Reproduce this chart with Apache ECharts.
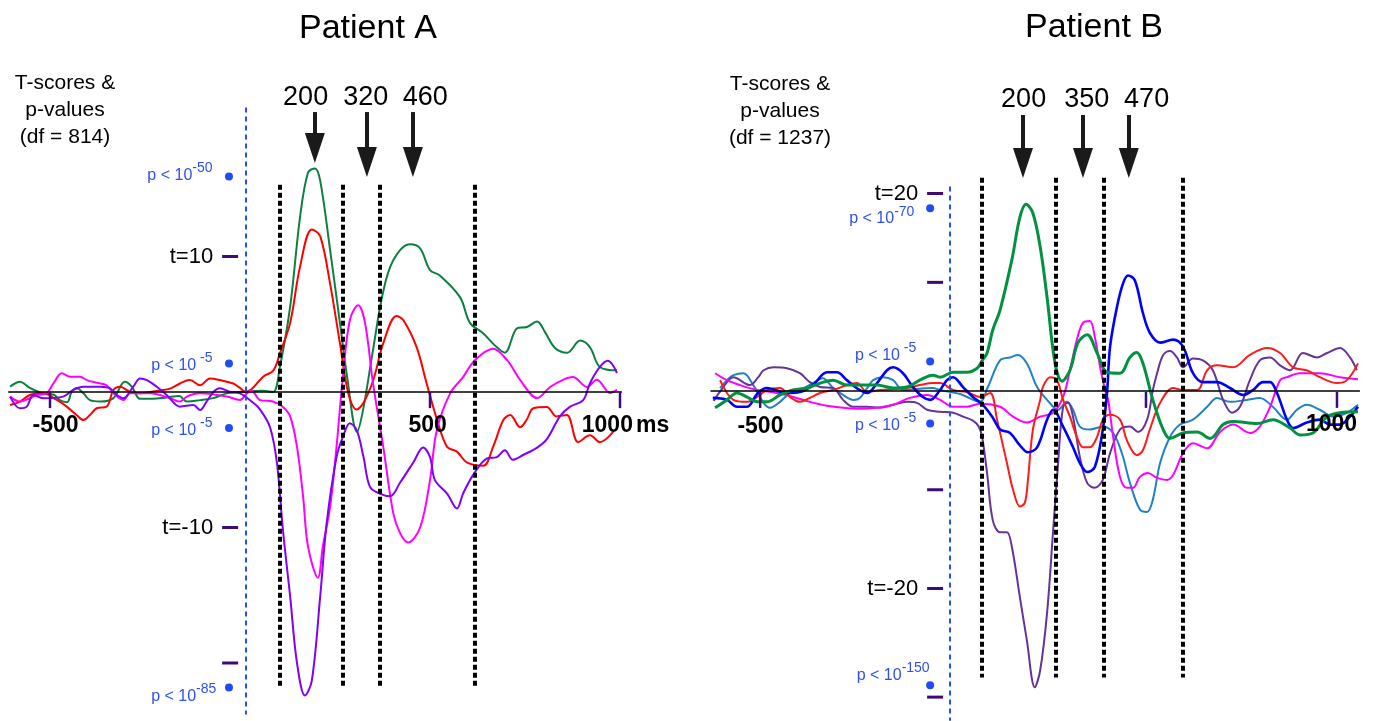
<!DOCTYPE html>
<html>
<head>
<meta charset="utf-8">
<script src="https://cdn.jsdelivr.net/npm/echarts@6/dist/echarts.min.js"></script>
<style>
  html, body { margin: 0; padding: 0; background: #fff; }
  #main { width: 1374px; height: 721px; }
</style>
</head>
<body>
<div id="main"></div>
<script>
// ---------- Patient A (ms, t) ----------
const greenA = [[-605,0.4],[-579,0.76],[-553,0.3],[-520,-0.1],[-490,-0.2],[-474,-0.6],[-455,-0.75],[-443,0],[-430,0.3],[-412,-0.1],[-395,-0.6],[-368,-0.7],[-333,-0.45],[-303,0.75],[-285,0.4],[-263,-0.5],[-230,-0.5],[-193,-0.4],[-160,-0.3],[-140,-0.7],[-105,-0.6],[-70,-0.45],[-35,-0.1],[0,0],[30,0.05],[60,0.1],[87,0],[105,1.85],[132,6.3],[158,12.9],[179,16.2],[197,16.5],[211,15.6],[237,10.5],[263,5.1],[282,1.1],[308,-2.95],[324,-1.3],[350,3.1],[376,7.3],[403,9.7],[447,10.9],[474,10.6],[500,9.0],[526,8.6],[579,7.0],[605,5.1],[639,4.35],[676,3.3],[697,2.9],[729,4.7],[755,4.8],[782,5.2],[803,4.4],[829,3.25],[861,2.9],[895,3.8],[921,3.3],[947,1.85],[992,1.6]];
const redA = [[-605,-0.96],[-579,-0.71],[-553,-0.22],[-518,-0.1],[-482,-0.59],[-456,-1.08],[-430,-1.7],[-412,-2.07],[-395,-1.7],[-377,-1.2],[-351,-1.08],[-333,0.15],[-316,0.39],[-289,0],[-263,-0.1],[-237,0],[-210,0.12],[-184,0.25],[-158,0.63],[-132,0.88],[-105,0.5],[-79,1.0],[-53,0.88],[-18,0.63],[0,0.3],[15,0],[30,0.2],[61,1.13],[88,1.6],[105,2.85],[132,5.1],[158,9.25],[189,12.0],[211,11.5],[237,8.0],[263,3.6],[285,-0.1],[307,-1.3],[325,-0.8],[351,0.9],[377,3.6],[412,5.6],[430,5.3],[465,3.3],[491,0.65],[518,-2.0],[545,-4.05],[571,-4.4],[597,-5.2],[640,-5.45],[666,-4.05],[693,-2.07],[711,-1.7],[737,-2.6],[754,-2.07],[772,-1.2],[807,-1.1],[833,-1.8],[860,-1.7],[890,-3.7],[921,-3.2],[947,-3.7],[982,-2.95]];
const magentaA = [[-605,-0.34],[-579,-0.71],[-553,-0.46],[-535,-0.22],[-509,-0.1],[-491,0.63],[-469,1.38],[-447,1.13],[-421,1.13],[-403,0.88],[-377,0.68],[-351,0.5],[-333,-0.1],[-307,-0.59],[-289,-0.1],[-237,-0.1],[-184,-0.46],[-158,-0.71],[-140,-0.34],[-105,-0.1],[-35,-0.34],[0,-0.59],[18,-0.1],[30,0.1],[53,-0.6],[87,-0.7],[113,-1.1],[132,-1.8],[150,-4.05],[166,-7.7],[179,-11.4],[205,-13.7],[218,-11.4],[237,-8.5],[254,-4.05],[271,1.2],[289,5.3],[311,6.4],[329,5.1],[350,0.65],[377,-4.05],[403,-8.9],[421,-10.4],[442,-11.1],[474,-10],[500,-6.5],[518,-2.8],[553,-0.1],[587,1.1],[618,2.35],[666,3.2],[703,2.35],[737,0.9],[782,-0.45],[816,0.37],[850,0.9],[876,1.1],[913,0.37],[939,0.9],[974,-0.07],[992,0.15]];
const purpleA = [[-605,-0.34],[-579,-1.2],[-561,-1.08],[-544,-0.22],[-518,-0.46],[-465,-0.34],[-439,0.15],[-412,0.39],[-368,0.39],[-342,0.27],[-324,-0.22],[-307,-0.46],[-281,0.39],[-263,1.0],[-245,0.88],[-219,0.39],[-193,-0.22],[-158,-1.08],[-123,-0.96],[-105,-1.33],[-88,-0.71],[-70,0],[-53,0.27],[-26,0],[0,-0.1],[35,-0.8],[53,-1.3],[79,-2.6],[97,-5.2],[113,-10.2],[132,-15.1],[150,-20],[171,-22.4],[189,-21.3],[211,-15.1],[228,-9.7],[254,-4.8],[271,-3.3],[289,-2.3],[307,-2.8],[325,-4.8],[342,-7.0],[368,-7.5],[395,-7.7],[421,-6.7],[456,-5.2],[482,-4.1],[500,-4.8],[513,-6.5],[545,-7.5],[571,-8.6],[587,-7.5],[614,-6.1],[650,-4.9],[676,-4.8],[697,-4.3],[718,-5.0],[745,-4.65],[782,-4.1],[807,-3.5],[842,-1.8],[868,-1.1],[903,-0.6],[921,0.65],[947,1.85],[968,2.3],[992,1.4]];

// ---------- Patient B (ms, t) ----------
const greenB = [[-628,-1.7],[-597,-0.9],[-571,-0.2],[-545,-0.6],[-518,-1.1],[-492,-1.1],[-458,-0.4],[-424,0.1],[-387,0.3],[-353,0.8],[-319,1.1],[-283,0.6],[-204,0.6],[-162,0.3],[-126,0.4],[-92,1.1],[-58,1.6],[-39,1.4],[-5,1.9],[31,1.9],[58,2.3],[73,3.2],[84,3.85],[99,6.2],[118,8.2],[149,13.3],[170,17.6],[186,18.9],[204,18.0],[223,14.6],[241,9.5],[262,2.8],[280,1.0],[301,2.1],[322,4.9],[346,5.7],[372,3.85],[398,1.9],[432,1.8],[458,3.4],[476,3.9],[492,2.8],[518,-0.9],[545,-3.9],[563,-4.8],[597,-4.25],[634,-4.15],[668,-4.8],[702,-3.4],[728,-3.1],[791,-3.3],[832,-2.9],[877,-3.75],[903,-4.45],[937,-4.25],[974,-2.6],[1008,-2.2],[1055,-2.1]];
const blueB = [[-634,-0.7],[-597,-0.9],[-571,-1.6],[-545,-1.6],[-516,-0.2],[-492,0.3],[-440,-0.2],[-406,-0.1],[-372,0.6],[-335,1.9],[-309,1.9],[-283,1.1],[-257,0.3],[-230,-0.2],[-204,0.8],[-178,2.1],[-162,2.4],[-136,1.8],[-110,0.4],[-84,-0.6],[-65,-0.9],[-39,0.1],[-21,1.1],[-5,1.4],[21,0.4],[47,-0.6],[73,-1.4],[99,-2.7],[118,-3.9],[144,-4.25],[170,-5.5],[191,-6.2],[215,-5.7],[241,-2.9],[257,-1.9],[283,-3.6],[309,-5.7],[327,-7.3],[346,-8.2],[366,-7.7],[387,-3.9],[398,-0.2],[406,4.5],[424,8.5],[440,10.9],[453,11.7],[471,11.2],[492,7.9],[510,5.9],[537,4.9],[571,5.2],[597,4.5],[623,1.8],[649,0.9],[686,0.9],[720,0.3],[754,-0.4],[780,0.1],[806,0.9],[825,0.9],[843,-0.2],[869,-2.9],[885,-3.75],[921,-3.2],[955,-2.9],[982,-3.4],[1008,-3.4],[1034,-2.6],[1055,-1.6]];
const redB = [[-615,1.1],[-580,-0.9],[-545,-1.1],[-518,-0.6],[-492,0.1],[-458,0.3],[-432,-0.6],[-406,-1.1],[-380,-0.7],[-353,-0.2],[-319,0.1],[-283,0.6],[-257,0.8],[-230,-0.1],[-196,0.1],[-126,0.3],[-92,0.6],[-58,0.8],[-39,0.8],[-5,0.1],[31,-0.1],[65,-0.6],[92,-0.2],[110,-2.9],[136,-7.3],[152,-10],[170,-11.7],[183,-11.3],[191,-9.0],[204,-3.9],[223,-0.9],[230,0.4],[249,1.4],[267,1.1],[283,-0.9],[301,-2.6],[319,-4.65],[335,-5.7],[353,-5.7],[372,-4.65],[387,-2.9],[406,-2.4],[432,-2.9],[450,-5.0],[476,-6.5],[492,-6.0],[510,-3.9],[537,-1.2],[571,0.3],[597,0.1],[634,0.1],[660,2.1],[686,2.6],[728,2.4],[772,3.65],[817,4.35],[851,3.85],[885,2.4],[921,2.1],[955,1.4],[1000,0.8],[1026,1.1],[1055,2.8]];
const magentaB = [[-628,1.8],[-597,1.1],[-563,0.6],[-518,0.1],[-466,-0.2],[-424,-0.6],[-380,-1.1],[-335,-1.5],[-293,-1.7],[-249,-1.8],[-204,-1.7],[-162,-1.4],[-118,-0.7],[-73,-0.4],[-39,-0.9],[-5,-1.6],[31,-1.6],[65,-1.3],[118,-1.6],[152,-2.6],[188,-3.2],[223,-2.6],[257,-2.2],[283,-0.6],[301,2.1],[319,5.2],[335,6.9],[353,7.1],[366,5.5],[380,2.4],[393,0.1],[401,-0.9],[414,-4.65],[432,-8.7],[450,-9.8],[466,-9.8],[484,-8.7],[505,-8.3],[529,-8.8],[555,-9.0],[571,-8.5],[597,-6.3],[623,-5.3],[660,-5.8],[694,-4.15],[728,-3.4],[772,-4.25],[798,-3.6],[825,-1.6],[851,1.1],[869,1.4],[903,1.8],[955,1.8],[1008,1.4],[1055,1.2]];
const steelB = [[-615,0.3],[-597,1.1],[-580,1.6],[-554,1.8],[-528,0.6],[-501,-1.2],[-484,-1.7],[-458,-1.1],[-432,-0.2],[-406,0.1],[-372,0.8],[-346,1.3],[-319,0.3],[-293,-0.4],[-266,-0.9],[-249,-0.7],[-230,0.3],[-214,1.1],[-188,1.4],[-162,1.1],[-136,0.1],[-58,0.3],[-39,0.1],[13,-0.3],[65,-1.1],[86,0.4],[118,3.1],[144,3.4],[165,3.65],[188,2.8],[215,0.4],[241,-0.9],[270,-1.9],[293,-1.1],[309,-1.9],[327,-3.6],[353,-3.9],[387,-3.6],[414,-4.25],[437,-6.3],[458,-9.3],[484,-12.0],[503,-12.25],[518,-11.0],[537,-7.3],[563,-4.65],[589,-3.4],[623,-2.9],[660,-1.6],[686,-0.7],[720,-1.1],[764,-0.9],[798,-0.7],[832,-1.6],[869,-2.9],[895,-1.9],[921,-1.4],[955,-1.9],[990,-2.6],[1026,-2.2],[1055,-1.4]];
const purpleB = [[-632,-1.0],[-610,0.2],[-580,1.4],[-537,0.6],[-515,1.4],[-501,2.1],[-475,2.4],[-440,2.3],[-406,1.8],[-380,0.9],[-353,0.4],[-319,0.3],[-293,-0.9],[-266,-1.6],[-230,-1.6],[-196,-1.7],[-162,-1.4],[-126,-1.1],[-100,-1.2],[-73,-1.9],[-39,-2.1],[-5,-2.2],[21,-2.6],[47,-3.0],[62,-3.6],[71,-4.65],[84,-8.3],[99,-13.1],[118,-14.3],[136,-14.3],[149,-15.8],[170,-20.9],[188,-25.2],[209,-30.0],[223,-28.3],[241,-22.5],[257,-14.1],[270,-7.3],[283,-1.6],[296,-1.2],[309,-2.6],[327,-6.7],[346,-9.3],[366,-9.8],[387,-9.0],[406,-6.3],[432,-3.9],[458,-3.6],[479,-4.15],[503,-2.9],[518,0.1],[529,1.8],[545,3.65],[563,4.05],[581,3.4],[597,2.4],[623,3.3],[649,3.1],[675,2.1],[702,-0.9],[725,-2.2],[746,-1.6],[772,1.1],[798,3.1],[825,3.4],[851,2.6],[877,2.1],[911,3.85],[948,3.4],[974,3.85],[1008,4.35],[1034,3.4],[1052,2.1]];

// ---------- annotations ----------
const xTicksA = [-500, 500, 1000];
const xTickTextA = [[-484, -2.5, '-500'], [495, -2.5, '500'], [968, -2.5, '1000'], [1087, -2.5, 'ms']];
const xTicksB = [-510, 500, 1000];
const xTickTextB = [[-508, -3.65, '-500'], [987, -3.44, '1000']];

const tTicksA = [10, -10, -20];
const tTextA = ['t=10', 't=-10', ''];
const tTicksB = [20, 11, -10, -20, -31];
const tTextB = ['t=20', '', '', 't=-20', ''];

const pDotsA = [15.9, 2.1, -2.65, -21.8];
const pTextA = [[-71, 15.94, '-50'], [-71, 1.92, ' -5'], [-71, -2.88, ' -5'], [-61, -22.5, '-85']];
const pDotsB = [18.5, 3.0, -3.3, -29.8];
const pTextB = [[-105, 17.4, '-70'], [-100, 3.54, ' -5'], [-100, -3.54, ' -5'], [-65, -28.86, '-150']];

const windowsA = [105, 270, 368, 618];
const windowsB = [71, 264, 390, 597];
const onsetA = 15;
const onsetB = -13;

const peakNamesA = ['200', '320', '460'];
const peakArrowA = [197, 334, 455];
const peakTipA = [16.9, 15.87, 15.87];
const peakTextA = [174, 332, 489];
const peakNamesB = ['200', '350', '470'];
const peakArrowB = [178, 335, 455];
const peakTipB = [21.57, 21.57, 21.57];
const peakTextB = [181, 346, 503];

// ---------- layout ----------
const FONT = '"Liberation Sans", Arial, Helvetica, sans-serif';
const pxA = 13.55, pxB = 9.875;   // px per t unit (from grid heights)
const rangeA = {xMin: -610, xMax: 1005, yMin: -24, yMax: 25};
const rangeB = {xMin: -640, xMax: 1060, yMin: -34, yMax: 32};
const BLUE = '#2f4ff0', TICK = '#3d0a78';

function lineS(data, color, width, k) {
  return {type: 'line', data: data, xAxisIndex: k, yAxisIndex: k, smooth: 0.35, symbol: 'none',
    lineStyle: {color: color, width: width}, silent: true, animation: false, z: 3};
}
function segS(k, segs, lineStyle) {
  return {type: 'line', data: [], xAxisIndex: k, yAxisIndex: k, silent: true, animation: false,
    markLine: {silent: true, animation: false, symbol: ['none', 'none'], label: {show: false},
      lineStyle: lineStyle, emphasis: {disabled: true},
      data: segs.map(s => [{coord: [s[0], s[1]]}, {coord: [s[2], s[3]]}])}};
}
function markS(k, pts, symbol, size, color, z) {
  return {type: 'scatter', xAxisIndex: k, yAxisIndex: k, clip: false, silent: true, animation: false,
    symbol: symbol, symbolSize: size, itemStyle: {color: color, opacity: 1}, data: pts, z: z || 6};
}
function textS(k, pts, label) {
  return {type: 'scatter', xAxisIndex: k, yAxisIndex: k, clip: false, silent: true, animation: false,
    symbolSize: 1, itemStyle: {color: 'rgba(0,0,0,0)', opacity: 1}, z: 8,
    data: pts.map(p => ({value: [p[0], p[1]], label: Object.assign({show: true, opacity: 1, formatter: p[2]}, label)}))};
}
const pRich = {
  base: {fontSize: 16, color: BLUE, fontFamily: FONT, verticalAlign: 'middle', lineHeight: 18},
  sup: {fontSize: 14, color: BLUE, fontFamily: FONT, verticalAlign: 'middle', lineHeight: 16, padding: [0, 0, 14, 0]}
};

function panel(k, curves, r, o) {
  const s = [];
  // zero line
  s.push(segS(k, [[r.xMin, 0, r.xMax, 0]], {color: '#000', width: 1.6, type: 'solid'}));
  curves.forEach(c => s.push(lineS(c[0], c[1], c[2], k)));
  // onset (blue dashed) and windows (black dotted)
  s.push(segS(k, [[o.onset, o.onsetTop, o.onset, o.onsetBot]], {color: '#2250ff', width: 2, type: [5, 4]}));
  s.push(segS(k, o.windows.map(w => [w, o.winTop, w, o.winBot]), {color: '#000', width: 4, type: [5, 3], cap: 'butt'}));
  // arrows: shaft + downward head
  s.push(segS(k, o.arrows.map((x, i) => [x, o.arrowTop, x, o.tips[i] + 15 / o.px]), {color: '#1a1a1a', width: 4, type: 'solid'}));
  const head = markS(k, o.arrows.map((x, i) => [x, o.tips[i] + 15 / o.px]), 'triangle', [20, 30], '#1a1a1a', 7);
  head.symbolRotate = 180;
  s.push(head);
  s.push(textS(k, o.arrowText.map((x, i) => [x, o.arrowTextY, o.peakNames[i]]),
    {position: [0, 0], align: 'center', verticalAlign: 'middle', fontSize: 27, color: '#000', fontFamily: FONT}));
  // x ticks + labels
  s.push(markS(k, o.xTicks.map(x => [x, o.xTickY]), 'rect', [2.5, 16], TICK));
  s.push(textS(k, o.xText, {position: [0, 0], align: 'center', verticalAlign: 'middle', fontSize: 23,
    fontWeight: 'bold', color: '#000', fontFamily: FONT}));
  // t ticks with labels
  s.push({type: 'scatter', xAxisIndex: k, yAxisIndex: k, clip: false, silent: true, animation: false,
    symbol: 'rect', symbolSize: [16, 3], itemStyle: {color: TICK, opacity: 1}, z: 6,
    data: o.tTicks.map((t, i) => ({value: [o.tTickX, t], label: {show: !!o.tText[i], formatter: o.tText[i], opacity: 1,
      position: 'left', distance: 9, fontSize: 22, color: '#000', fontFamily: FONT}}))});
  // p dots + labels
  s.push(markS(k, o.pDots.map(t => [o.pDotX, t]), 'circle', 8, '#1f4cf5'));
  s.push(textS(k, o.pText.map(p => [p[0], p[1], '{base|p < 10}{sup|' + p[2] + '}']),
    {position: [0, 0], align: 'right', verticalAlign: 'middle', rich: pRich}));
  return s;
}

const seriesA = panel(0, [[greenA, '#0c8040', 2], [redA, '#ff0000', 2], [magentaA, '#ff00ff', 2], [purpleA, '#8000ff', 2]], rangeA, {
  px: pxA, onset: onsetA, onsetTop: 21, onsetBot: -23.8, windows: windowsA, winTop: 15.3, winBot: -21.8,
  arrows: peakArrowA, tips: peakTipA, arrowTop: 20.66, arrowText: peakTextA, arrowTextY: 21.7, peakNames: peakNamesA,
  xTicks: xTicksA, xTickY: -0.6, xText: xTickTextA,
  tTicks: tTicksA, tText: tTextA, tTickX: -26,
  pDots: pDotsA, pDotX: -29, pText: pTextA
});
const seriesB = panel(1, [[steelB, '#2181c2', 2], [purpleB, '#663399', 2], [magentaB, '#ff00ff', 2], [redB, '#ff1a1a', 2], [blueB, '#0000ff', 2.6], [greenB, '#00923f', 3]], rangeB, {
  px: pxB, onset: onsetB, onsetTop: 20.7, onsetBot: -33.4, windows: windowsB, winTop: 21.6, winBot: -29.0,
  arrows: peakArrowB, tips: peakTipB, arrowTop: 27.95, arrowText: peakTextB, arrowTextY: 29.47, peakNames: peakNamesB,
  xTicks: xTicksB, xTickY: -0.9, xText: xTickTextB,
  tTicks: tTicksB, tText: tTextB, tTickX: -52,
  pDots: pDotsB, pDotX: -65, pText: pTextB
});

const chart = echarts.init(document.getElementById('main'));
chart.setOption({
  backgroundColor: '#fff',
  animation: false,
  grid: [
    {left: 8.2, top: 392 - rangeA.yMax * pxA, width: 613.7, height: (rangeA.yMax - rangeA.yMin) * pxA, outerBoundsMode: 'none'},
    {left: 710.5, top: 391 - rangeB.yMax * pxB, width: 649.4, height: (rangeB.yMax - rangeB.yMin) * pxB, outerBoundsMode: 'none'}
  ],
  xAxis: [
    {type: 'value', gridIndex: 0, min: rangeA.xMin, max: rangeA.xMax, show: false},
    {type: 'value', gridIndex: 1, min: rangeB.xMin, max: rangeB.xMax, show: false}
  ],
  yAxis: [
    {type: 'value', gridIndex: 0, min: rangeA.yMin, max: rangeA.yMax, show: false},
    {type: 'value', gridIndex: 1, min: rangeB.yMin, max: rangeB.yMax, show: false}
  ],
  graphic: [
    {type: 'text', x: 368, y: 29, style: {text: 'Patient A', fill: '#000', font: '34px ' + FONT, align: 'center', verticalAlign: 'middle'}},
    {type: 'text', x: 1094, y: 28, style: {text: 'Patient B', fill: '#000', font: '34px ' + FONT, align: 'center', verticalAlign: 'middle'}},
    {type: 'text', x: 65, y: 110, style: {text: 'T-scores &\np-values\n(df = 814)', fill: '#000', font: '21px ' + FONT, align: 'center', verticalAlign: 'middle', lineHeight: 27}},
    {type: 'text', x: 780, y: 111, style: {text: 'T-scores &\np-values\n(df = 1237)', fill: '#000', font: '21px ' + FONT, align: 'center', verticalAlign: 'middle', lineHeight: 27}}
  ],
  series: seriesA.concat(seriesB)
});
</script>
</body>
</html>
